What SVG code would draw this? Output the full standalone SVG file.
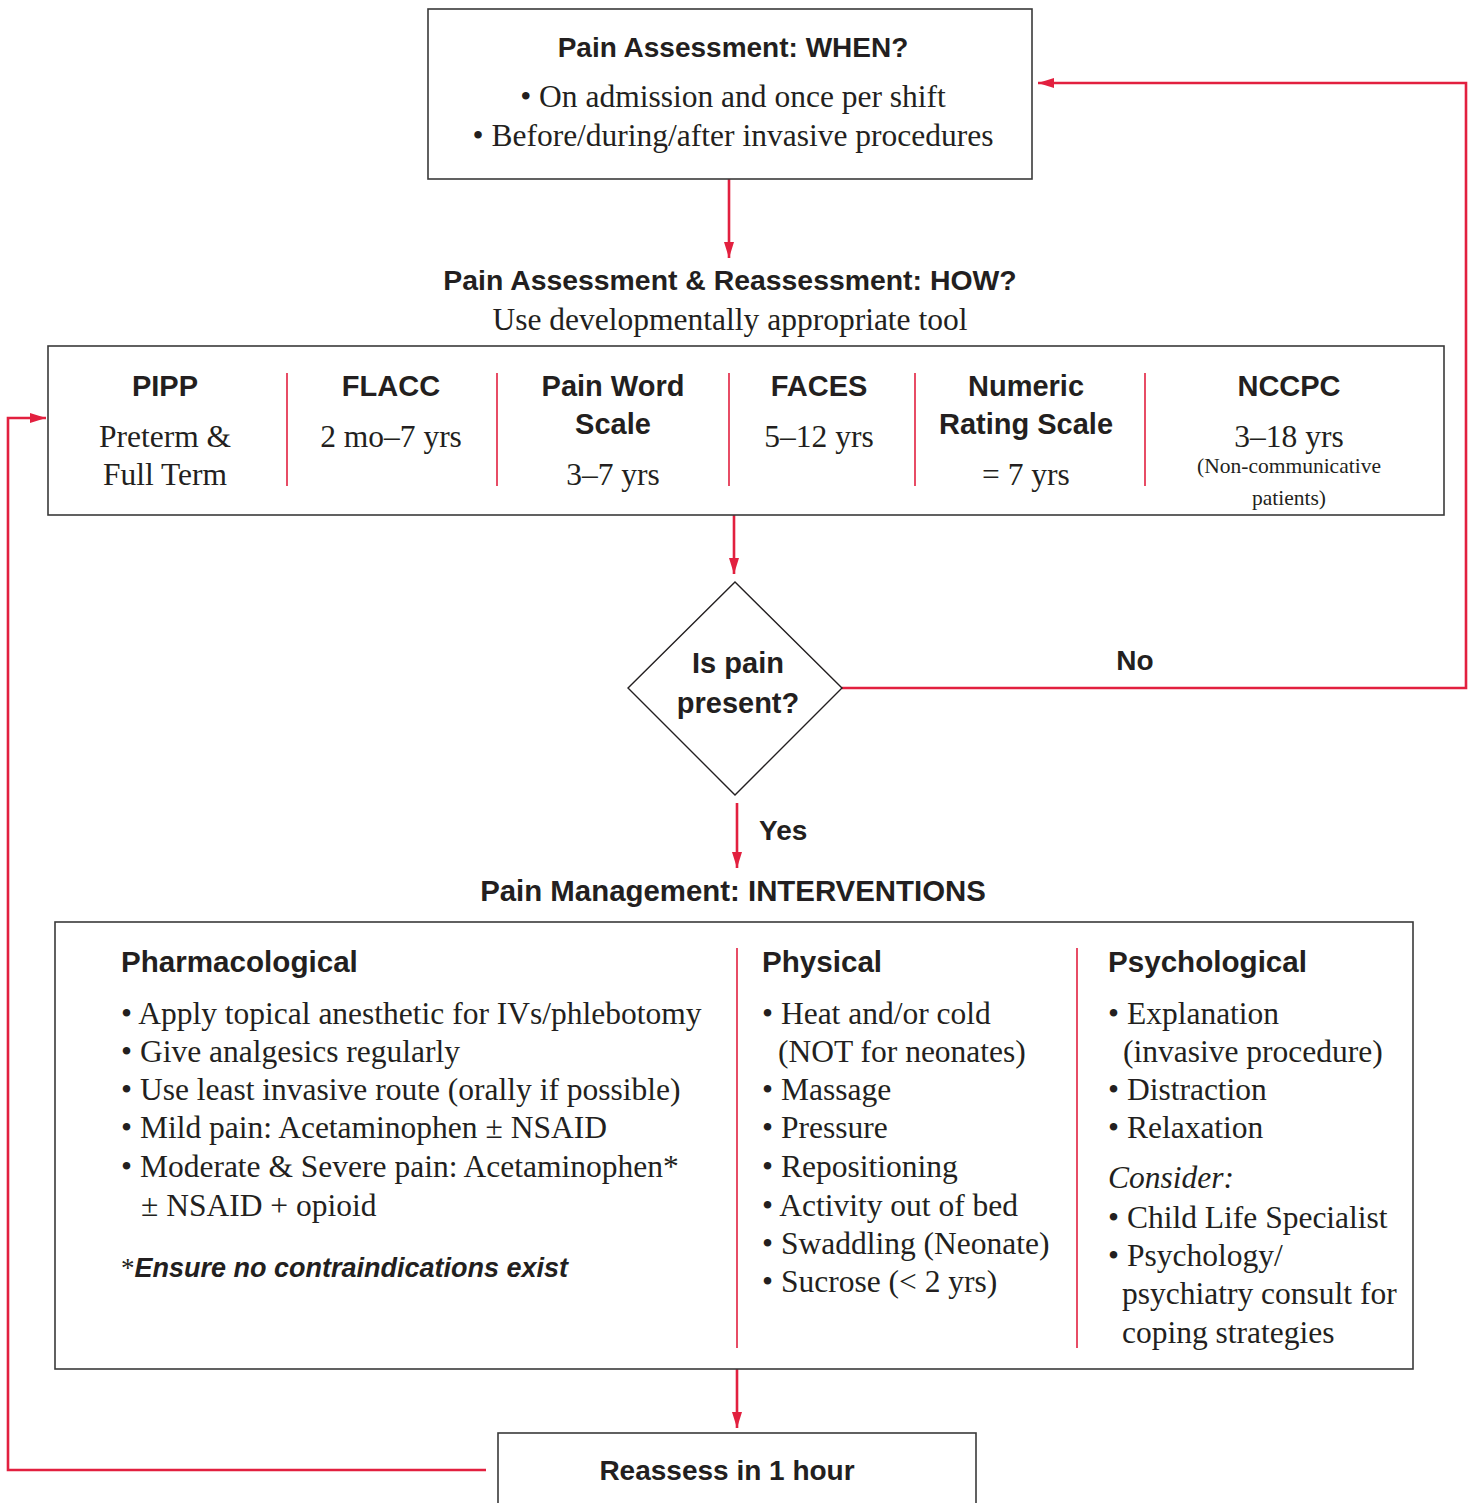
<svg xmlns="http://www.w3.org/2000/svg" width="1475" height="1503" viewBox="0 0 1475 1503">
<style>
.box{fill:#fff;stroke:#3a3a3a;stroke-width:1.6}
.div{stroke:#e2203f;stroke-width:1.6}
.con{fill:none;stroke:#e2203f;stroke-width:2.6}
.h{font-family:"Liberation Sans",Arial,sans-serif;font-weight:700;fill:#231f20}
.s{font-family:"Liberation Serif","Times New Roman",serif;fill:#231f20}
.c{text-anchor:middle}
</style>
<defs>
<marker id="ah" viewBox="0 0 16 10" refX="16" refY="5" markerWidth="16" markerHeight="10" markerUnits="userSpaceOnUse" orient="auto">
<path d="M0,0 L16,5 L0,10 Z" fill="#e2203f"/>
</marker>
</defs>
<rect width="1475" height="1503" fill="#fff"/>

<g id="connectors">
<line class="con" x1="729" y1="179" x2="729" y2="258" marker-end="url(#ah)"/>
<line class="con" x1="734" y1="515" x2="734" y2="574" marker-end="url(#ah)"/>
<polyline class="con" points="842,688 1466,688 1466,83 1038,83" marker-end="url(#ah)"/>
<line class="con" x1="737" y1="803" x2="737" y2="868" marker-end="url(#ah)"/>
<line class="con" x1="737" y1="1369" x2="737" y2="1428" marker-end="url(#ah)"/>
<polyline class="con" points="486,1470 8,1470 8,418 46,418" marker-end="url(#ah)"/>
<text class="h" x="1135" y="670" font-size="28" text-anchor="middle">No</text>
<text class="h" x="759" y="840" font-size="28">Yes</text>
</g>

<g id="when">
<rect class="box" x="428" y="9" width="604" height="170"/>
<text class="h c" x="733" y="57" font-size="28">Pain Assessment: WHEN?</text>
<text class="s c" x="733" y="107" font-size="31.5">• On admission and once per shift</text>
<text class="s c" x="733" y="146" font-size="31.5">• Before/during/after invasive procedures</text>
</g>

<g id="how-title">
<text class="h c" x="730" y="290" font-size="28.4">Pain Assessment &amp; Reassessment: HOW?</text>
<text class="s c" x="730" y="330" font-size="31.5">Use developmentally appropriate tool</text>
</g>

<g id="tools">
<rect class="box" x="48" y="346" width="1396" height="169"/>
<line class="div" x1="287" y1="373" x2="287" y2="486"/>
<line class="div" x1="497" y1="373" x2="497" y2="486"/>
<line class="div" x1="729" y1="373" x2="729" y2="486"/>
<line class="div" x1="915" y1="373" x2="915" y2="486"/>
<line class="div" x1="1145" y1="373" x2="1145" y2="486"/>
<text class="h c" x="165" y="396" font-size="29">PIPP</text>
<text class="s c" x="165" y="447" font-size="31.5">Preterm &amp;</text>
<text class="s c" x="165" y="485" font-size="31.5">Full Term</text>
<text class="h c" x="391" y="396" font-size="29">FLACC</text>
<text class="s c" x="391" y="447" font-size="31.5">2 mo–7 yrs</text>
<text class="h c" x="613" y="396" font-size="29">Pain Word</text>
<text class="h c" x="613" y="434" font-size="29">Scale</text>
<text class="s c" x="613" y="485" font-size="31.5">3–7 yrs</text>
<text class="h c" x="819" y="396" font-size="29">FACES</text>
<text class="s c" x="819" y="447" font-size="31.5">5–12 yrs</text>
<text class="h c" x="1026" y="396" font-size="29">Numeric</text>
<text class="h c" x="1026" y="434" font-size="29">Rating Scale</text>
<text class="s c" x="1026" y="485" font-size="31.5">= 7 yrs</text>
<text class="h c" x="1289" y="396" font-size="29">NCCPC</text>
<text class="s c" x="1289" y="447" font-size="31.5">3–18 yrs</text>
<text class="s c" x="1289" y="473" font-size="21.5">(Non-communicative</text>
<text class="s c" x="1289" y="505" font-size="21.5">patients)</text>
</g>

<g id="decision">
<polygon points="735,582 842,688 735,795 628,688" fill="#fff" stroke="#231f20" stroke-width="1.4"/>
<text class="h c" x="738" y="673" font-size="29">Is pain</text>
<text class="h c" x="738" y="713" font-size="29">present?</text>
</g>

<g id="interventions">
<text class="h c" x="733" y="901" font-size="29.4">Pain Management: INTERVENTIONS</text>
<rect class="box" x="55" y="922" width="1358" height="447"/>
<line class="div" x1="737" y1="948" x2="737" y2="1348"/>
<line class="div" x1="1077" y1="948" x2="1077" y2="1348"/>
<text class="h" x="121" y="972" font-size="29.6">Pharmacological</text>
<text class="s" font-size="31.5">
<tspan x="121" y="1024">• Apply topical anesthetic for IVs/phlebotomy</tspan>
<tspan x="121" y="1062">• Give analgesics regularly</tspan>
<tspan x="121" y="1100">• Use least invasive route (orally if possible)</tspan>
<tspan x="121" y="1138">• Mild pain: Acetaminophen ± NSAID</tspan>
<tspan x="121" y="1177">• Moderate &amp; Severe pain: Acetaminophen*</tspan>
<tspan x="141" y="1216">± NSAID + opioid</tspan>
</text>
<text x="121" y="1277" font-size="27"><tspan class="s">*</tspan><tspan class="h" font-style="italic">Ensure no contraindications exist</tspan></text>
<text class="h" x="762" y="972" font-size="29.6">Physical</text>
<text class="s" font-size="31.5">
<tspan x="762" y="1024">• Heat and/or cold</tspan>
<tspan x="778" y="1062">(NOT for neonates)</tspan>
<tspan x="762" y="1100">• Massage</tspan>
<tspan x="762" y="1138">• Pressure</tspan>
<tspan x="762" y="1177">• Repositioning</tspan>
<tspan x="762" y="1216">• Activity out of bed</tspan>
<tspan x="762" y="1254">• Swaddling (Neonate)</tspan>
<tspan x="762" y="1292">• Sucrose (&lt; 2 yrs)</tspan>
</text>
<text class="h" x="1108" y="972" font-size="29.6">Psychological</text>
<text class="s" font-size="31.5">
<tspan x="1108" y="1024">• Explanation</tspan>
<tspan x="1123" y="1062">(invasive procedure)</tspan>
<tspan x="1108" y="1100">• Distraction</tspan>
<tspan x="1108" y="1138">• Relaxation</tspan>
<tspan x="1108" y="1188" font-style="italic">Consider:</tspan>
<tspan x="1108" y="1228">• Child Life Specialist</tspan>
<tspan x="1108" y="1266">• Psychology/</tspan>
<tspan x="1122" y="1304">psychiatry consult for</tspan>
<tspan x="1122" y="1343">coping strategies</tspan>
</text>
</g>

<g id="reassess">
<rect class="box" x="498" y="1433" width="478" height="90"/>
<text class="h c" x="727" y="1480" font-size="28">Reassess in 1 hour</text>
</g>
</svg>
